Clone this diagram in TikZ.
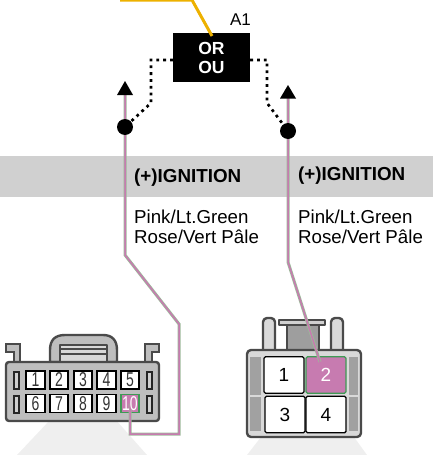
\documentclass[tikz,border=0pt]{standalone}
\usepackage{fontspec}
\setmainfont{Liberation Sans}
\newfontfamily\condfont[FakeStretch=0.7]{Liberation Sans}
\definecolor{wpink}{HTML}{C77BB0}
\definecolor{wgreen}{HTML}{9DB89A}
\definecolor{pingreen}{HTML}{3F9A55}
\definecolor{band}{HTML}{D0D0D0}
\definecolor{pale}{HTML}{EFEFEF}
\definecolor{outl}{HTML}{4A4A4A}
\definecolor{yel}{HTML}{EDB100}
\definecolor{conn}{HTML}{BEBEBE}
\tikzset{
  wirebase/.style={draw=wgreen,line width=3pt,line join=miter},
  wiretop/.style={draw=wpink,line width=1.5pt,line join=miter},
  ctl/.style={line width=2.7pt,dash pattern=on 2.8pt off 4pt},
  dotn/.style={circle,fill=black,inner sep=0pt,minimum size=16pt},
  tipfill/.style={fill=black},
  lab/.style={anchor=west,align=left,font=\fontsize{18.7}{20}\selectfont,inner sep=0pt},
  ign/.style={anchor=west,font=\fontsize{18.8}{19}\selectfont\bfseries,inner sep=0pt},
  smallpin/.style={draw=black,line width=1.6pt,fill=white,inner sep=0pt,minimum width=18.5pt,minimum height=18pt,font=\fontsize{20}{20}\condfont,text=black!80},
  bigpin/.style={draw=black,line width=1.4pt,fill=white,rounded corners=1.5pt,inner sep=0pt,minimum width=40pt,minimum height=36.5pt,font=\fontsize{19}{20}\selectfont},
  slot/.style={draw=black!85,line width=1.3pt,fill=band},
  panel/.style={fill=black!37},
  body/.style={draw=outl,line width=2.4pt,line join=round},
}
\begin{document}
\begin{tikzpicture}[x=1pt,y=-1pt]
\useasboundingbox (0,0) rectangle (433,455);
% band and pale trapezoids
\fill[band] (0,156) rectangle (433,197);
\fill[pale] (50,420) -- (17,455) -- (147,455) -- (116,420) -- cycle;
\fill[pale] (261,437) -- (247,455) -- (367,455) -- (354,437) -- cycle;

% left connector
\draw[body,fill=conn] (50,362) -- (50,350) .. controls (50,340) and (55,335) .. (65,335) -- (103,335) .. controls (112,335) and (117,340) .. (117,350) -- (117,362) -- cycle;
\draw[body,line width=1.8pt,fill=black!15] (60,345) rectangle (107,362);
\draw[outl,line width=1.6pt] (60,349) -- (107,349) (60,354) -- (107,354);
\draw[body,fill=conn,line join=miter] (6,344) -- (20,344) -- (20,362) -- (14,362) -- (14,352) -- (6,352) -- cycle;
\draw[body,fill=conn,line join=miter] (145,344) -- (159,344) -- (159,352) -- (152,352) -- (152,362) -- (145,362) -- cycle;
\draw[body,fill=conn,rounded corners=3pt] (6,362) rectangle (159,421);
\draw[slot] (14,372) rectangle (19,389);
\draw[slot] (14,396) rectangle (19,413);
\draw[slot] (147,372) rectangle (152,389);
\draw[slot] (147,396) rectangle (152,413);
\node[smallpin] (p1) at (35.5,380) {1};
\node[smallpin] (p2) at (59,380) {2};
\node[smallpin] (p3) at (83,380) {3};
\node[smallpin] (p4) at (106.5,380) {4};
\node[smallpin] (p5) at (130,380) {5};
\node[smallpin] (p6) at (35.5,403.5) {6};
\node[smallpin] (p7) at (59,403.5) {7};
\node[smallpin] (p8) at (83,403.5) {8};
\node[smallpin] (p9) at (106.5,403.5) {9};
\node[smallpin,draw=pingreen,fill=wpink,text=white] (p10) at (130,403.5) {};

% right connector
\fill[black!38] (287,325) rectangle (319,350);
\draw[outl,line width=1.6pt] (287,325) -- (287,350) (319,325) -- (319,350);
\draw[body,fill=band] (279,320) -- (325,320) -- (325,325) -- (279,325) -- cycle;
\draw[body,fill=black!15,rounded corners=4pt] (263,350) -- (263,318) -- (275,318) -- (275,350);
\draw[body,fill=black!15,rounded corners=4pt] (331,350) -- (331,318) -- (343,318) -- (343,350);
\draw[body,fill=black!15,rounded corners=4pt] (247,350) rectangle (361,437);
\fill[panel] (250,357) rectangle (261,395);
\fill[panel] (250,397) rectangle (261,431);
\fill[panel] (349,357) rectangle (358,395);
\fill[panel] (349,397) rectangle (358,431);
\node[bigpin] (q1) at (284,375) {1};
\node[bigpin,draw=pingreen,fill=wpink,text=white] (q2) at (326,375) {2};
\node[bigpin] (q3) at (285,414.5) {3};
\node[bigpin] (q4) at (326,414.5) {4};

% control box
\node[fill=black,text=white,inner sep=0pt,minimum width=77pt,minimum height=49pt,align=center,font=\fontsize{17.5}{19}\selectfont\bfseries] (box) at (211.5,57.5) {OR\\OU};
\node[anchor=center,inner sep=0pt,font=\fontsize{17}{18}\selectfont] (a1) at (240.5,20) {A1};
\coordinate (y0) at (120,0);
\coordinate (y1) at (192,0);
\coordinate (y2) at (212,36);
\draw[yel,line width=3pt] (y0) -- (y1) -- (y2);

% wires
\coordinate (lt) at (125,90);
\coordinate (lb1) at (125,255);
\coordinate (lb2) at (179,324);
\coordinate (lb3) at (179,434);
\coordinate (lb4) at (130,434);
\coordinate (rt) at (288,93);
\coordinate (rb1) at (288,262);
\coordinate (rb2) at (320,362);
\draw[wirebase] (lt) -- (lb1) -- (lb2) -- (lb3) -- (lb4) -- (p10.center);
\draw[wiretop] (lt) -- (lb1) -- (lb2) -- (lb3) -- (lb4) -- (p10.center);
\draw[wirebase] (rt) -- (rb1) -- (rb2);
\draw[wiretop] (rt) -- (rb1) -- (rb2);
\node[smallpin,draw=none,fill=none,text=white] (p10t) at (130,403.5) {10};
\fill[tipfill] (125,81) -- (133,95) -- (117,95) -- cycle;
\fill[tipfill] (288,85) -- (296,98.5) -- (280,98.5) -- cycle;
\node[dotn] (ld) at (125,127) {};
\node[dotn] (rd) at (288,131) {};

% dotted control lines
\coordinate (c1) at (151,60);
\coordinate (c2) at (151,103);
\coordinate (c3) at (267,60);
\coordinate (c4) at (267,103);
\draw[ctl] (box.west |- c1) -- (c1) -- (c2) -- (ld);
\draw[ctl] (box.east |- c3) -- (c3) -- (c4) -- (rd);

% labels
\node[ign] (i1) at (134,178) {(+)IGNITION};
\node[ign] (i2) at (298,176) {(+)IGNITION};
\node[lab] (t1) at (134,227) {Pink/Lt.Green\\Rose/Vert Pâle};
\node[lab] (t2) at (298,227) {Pink/Lt.Green\\Rose/Vert Pâle};
\end{tikzpicture}
\end{document}
